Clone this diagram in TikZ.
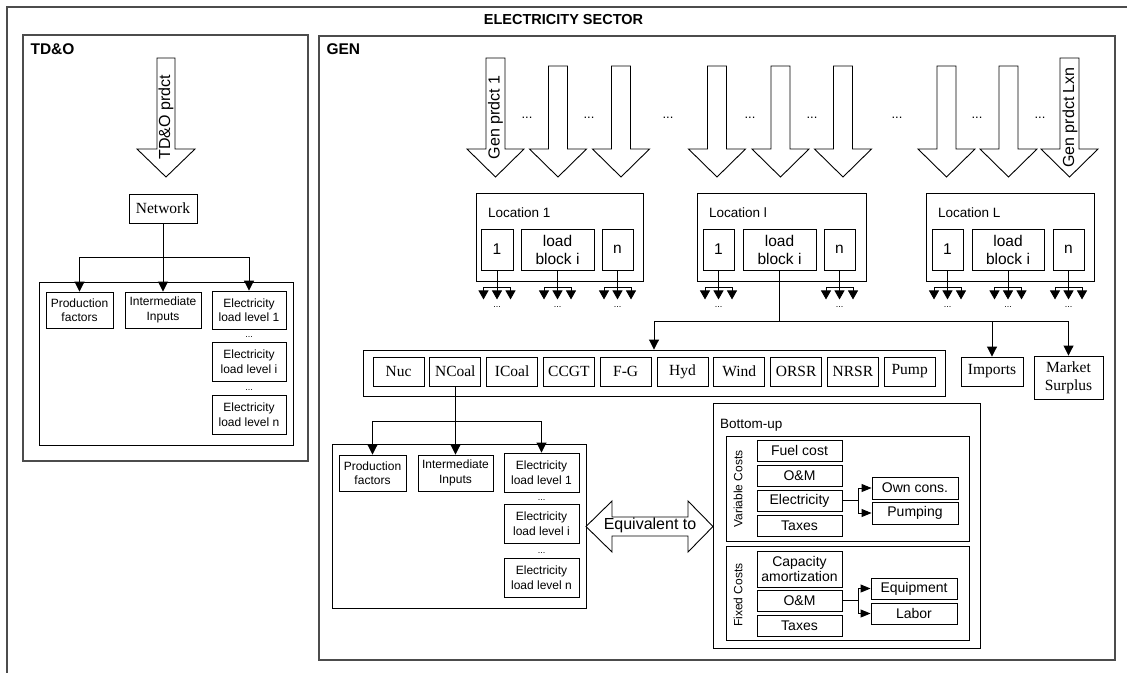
\documentclass[tikz,border=0pt]{standalone}
\usepackage{fontspec}
\setmainfont{Liberation Serif}
\newfontfamily\ssf{Liberation Sans}
\usetikzlibrary{arrows.meta}
\tikzset{
  frame/.style={draw=black!70, line width=1.3pt},
  bx/.style n args={2}{draw, line width=0.9pt, inner sep=0pt, minimum width=#1pt, minimum height=#2pt, align=center},
  sf/.style={font=\ssf\fontsize{12}{14.5}\selectfont},
  sfb/.style={font=\ssf\fontsize{14}{15}\selectfont},
  sr/.style={font=\fontsize{15.5}{18}\selectfont},
  lb/.style={font=\ssf\fontsize{15.5}{18}\selectfont},
  hd/.style={font=\ssf\bfseries\fontsize{15.5}{17}\selectfont, anchor=base west},
  dts/.style={font=\ssf\fontsize{9}{10}\selectfont, anchor=base, inner sep=0pt},
  bdts/.style={font=\ssf\fontsize{13}{14}\selectfont, inner sep=0pt},
  tip/.style={-{Triangle[length=10pt,width=10pt]}, line width=0.9pt},
  stip/.style={-{Triangle[length=9pt,width=10pt]}, line width=0.9pt},
  btip/.style={-{Triangle[length=10pt,width=8pt]}, line width=0.9pt},
  blk/.style={draw, line width=0.9pt, fill=white},
  rot/.style={rotate=90, font=\ssf\fontsize{16}{18}\selectfont, inner sep=0pt},
}
\newcommand\blkarrow[3]{%
  \draw[blk] (#1-9.5,#2) -- (#1+9.5,#2) -- (#1+9.5,149) -- (#1+28.5,149) -- (#1,177)
    -- (#1-28.5,149) -- (#1-9.5,149) -- cycle;}
\begin{document}
\begin{tikzpicture}[x=1pt,y=-1pt]
\useasboundingbox (0,0) rectangle (1127,673);
% outer frame (cropped)
\draw[frame] (1127,7) -- (7,7) -- (7,673);
\node[font=\ssf\bfseries\fontsize{14.5}{16}\selectfont, anchor=base] (title) at (563.5,24.5) {ELECTRICITY SECTOR};

% ---------------- TD&O ----------------
\node[frame, inner sep=0pt, minimum width=285pt, minimum height=426pt] (tdo) at (165.5,248) {};
\node[hd] (tdolab) at (27,54) {TD\&O};
\draw[blk] (157,58) -- (175,58) -- (175,149) -- (195,149) -- (166,177) -- (137,149) -- (157,149) -- cycle;
\node[rot] (tdoa) at (166,117.5) {TD\&O prdct};
\node[bx={68}{29}, sr] (net) at (163,208.5) {Network};
\node[bx={254}{163}] (tdin) at (166,363.5) {};
\node[bx={67}{36}, sf] (pf1) at (79.5,310) {Production\\factors};
\node[bx={76}{36}, sf] (ii1) at (163,310) {Intermediate\\Inputs};
\node[bx={74}{38}, sf] (ea1) at (249,310) {Electricity\\load level 1};
\node[bx={74}{39}, sf] (eb1) at (249,361.5) {Electricity\\load level i};
\node[bx={74}{39}, sf] (ec1) at (249,414.5) {Electricity\\load level n};
\node[dts] (d1a) at (249,337) {...};
\node[dts] (d1b) at (249,390) {...};
\draw[line width=0.9pt] (net.south) -- (163,257) coordinate (j1);
\draw[tip] (j1) -| (pf1.north);
\draw[tip] (j1) -- (ii1.north);
\draw[tip] (j1) -| (ea1.north);

% ---------------- GEN ----------------
\node[frame, inner sep=0pt, minimum width=796pt, minimum height=624pt] (gen) at (717,348) {};
\node[hd] (genlab) at (323,54) {GEN};
\blkarrow{495.5}{58}{}
\blkarrow{558}{66}{}
\blkarrow{621}{66}{}
\blkarrow{717}{66}{}
\blkarrow{780.5}{66}{}
\blkarrow{843}{66}{}
\blkarrow{946.5}{66}{}
\blkarrow{1008.5}{66}{}
\blkarrow{1069.5}{58}{}
\node[rot] (ga1) at (495.5,117.5) {Gen prdct 1};
\node[rot] (gaL) at (1070,117.5) {Gen prdct Lxn};
\foreach \x [count=\i] in {527,589,668,750,812,897,977,1040}
  \node[bdts] (gd\i) at (\x,118) {...};

% locations
\node[bx={167}{88}] (loc1) at (559.5,237) {};
\node[bx={169}{88}] (locl) at (781.5,237) {};
\node[bx={168}{88}] (locL) at (1010,237) {};
\node[font=\ssf\fontsize{13.5}{15}\selectfont, anchor=west, inner sep=0pt] (l1lab) at (488,213) {Location 1};
\node[font=\ssf\fontsize{13.5}{15}\selectfont, anchor=west, inner sep=0pt] (lllab) at (709,213) {Location l};
\node[font=\ssf\fontsize{13.5}{15}\selectfont, anchor=west, inner sep=0pt] (lLlab) at (938,213) {Location L};
\node[bx={32}{41}, lb] (a1) at (497,249.5) {1};
\node[bx={73}{41}, lb] (a2) at (557.5,249.5) {load\\block i};
\node[bx={31}{41}, lb] (a3) at (617.5,249.5) {n};
\node[bx={31}{41}, lb] (b1) at (718.5,249.5) {1};
\node[bx={73}{41}, lb] (b2) at (779.5,249.5) {load\\block i};
\node[bx={31}{41}, lb] (b3) at (839.5,249.5) {n};
\node[bx={31}{41}, lb] (c1) at (947.5,249.5) {1};
\node[bx={72}{41}, lb] (c2) at (1008,249.5) {load\\block i};
\node[bx={31}{41}, lb] (c3) at (1068.5,249.5) {n};
\foreach \n in {a1,a2,a3,b1,b3,c1,c2,c3} {
  \draw[line width=0.9pt] (\n.south) -- ++(0,17) coordinate (t\n);
  \draw[line width=0.9pt] ([xshift=-13.5pt]t\n) -- ([xshift=13.5pt]t\n);
  \foreach \dx in {-13.5,0,13.5}
    \draw[stip] ([xshift=\dx pt]t\n) -- ++(0,12);
  \node[dts] at ([yshift=-20pt]t\n) {...};
}

% technologies
\node[bx={582}{46}] (tech) at (654,373) {};
\foreach \t [count=\i from 0] in {Nuc,NCoal,ICoal,CCGT,F-G,Hyd,Wind,ORSR,NRSR,Pump}
  \node[bx={51}{29}, sr] (tc\i) at (398.5+56.8*\i,371.5) {\t};
\node[bx={62}{29}, sr] (imp) at (992,371.5) {Imports};
\node[bx={69}{43}, sr] (ms) at (1068.5,377.5) {Market\\Surplus};
\draw[line width=0.9pt] (b2.south) -- ++(0,51) coordinate (j2);
\draw[tip] (j2) -| (tech.north);
\draw[tip] (j2) -| (imp.north);
\draw[tip] (j2) -| (ms.north);

% lower structure
\node[bx={254}{164}] (gin) at (459,526) {};
\node[bx={67}{36}, sf] (pf2) at (372.5,473) {Production\\factors};
\node[bx={75}{36}, sf] (ii2) at (455.5,473) {Intermediate\\Inputs};
\node[bx={75}{39}, sf] (ea2) at (541.5,472.5) {Electricity\\load level 1};
\node[bx={75}{39}, sf] (eb2) at (541.5,523.5) {Electricity\\load level i};
\node[bx={75}{39}, sf] (ec2) at (541.5,577.5) {Electricity\\load level n};
\node[dts] (d2a) at (541.5,500) {...};
\node[dts] (d2b) at (541.5,553) {...};
\draw[line width=0.9pt] (tc1.south) -- ++(0,35) coordinate (j3);
\draw[tip] (j3) -| (pf2.north);
\draw[tip] (j3) -| (ii2.north);
\draw[tip] (j3) -| (ea2.north);

% equivalent arrow
\draw[blk] (586,526.5) -- (612,501) -- (612,517) -- (688,517) -- (688,501) -- (713,526.5)
  -- (688,552) -- (688,536) -- (612,536) -- (612,552) -- cycle;
\node[font=\ssf\fontsize{16}{18}\selectfont, inner sep=0pt] (eq) at (650,525) {Equivalent to};

% bottom-up
\node[bx={267}{245}] (bu) at (846.5,525.5) {};
\node[font=\ssf\fontsize{13.5}{15}\selectfont, anchor=west, inner sep=0pt] (bulab) at (720,425) {Bottom-up};
\node[bx={243}{105}] (vc) at (847.5,488.5) {};
\node[bx={243}{94}] (fc) at (847.5,593) {};
\node[rotate=90, font=\ssf\fontsize{12}{14}\selectfont, inner sep=0pt] (vclab) at (738,489) {Variable Costs};
\node[rotate=90, font=\ssf\fontsize{12}{14}\selectfont, inner sep=0pt] (fclab) at (738,595) {Fixed Costs};
\node[bx={85}{21}, sfb] (fuel) at (799.5,450.5) {Fuel cost};
\node[bx={85}{21}, sfb] (om1) at (799.5,475.5) {O\&M};
\node[bx={85}{21}, sfb] (elc) at (799.5,500.5) {Electricity};
\node[bx={85}{21}, sfb] (tax1) at (799.5,525.5) {Taxes};
\node[bx={86}{22}, sfb] (own) at (915,488) {Own cons.};
\node[bx={86}{22}, sfb] (pmp) at (915,513) {Pumping};
\node[bx={85}{36}, sfb] (cap) at (799.5,569) {Capacity\\amortization};
\node[bx={85}{21}, sfb] (om2) at (799.5,600.5) {O\&M};
\node[bx={85}{21}, sfb] (tax2) at (799.5,625.5) {Taxes};
\node[bx={86}{21}, sfb] (eqp) at (914,588.5) {Equipment};
\node[bx={86}{21}, sfb] (lab) at (914,613.5) {Labor};
\draw[btip] (elc.east) -- ++(16,0) |- (own.west);
\draw[btip] (elc.east) -- ++(16,0) |- (pmp.west);
\draw[btip] (om2.east) -- ++(16,0) |- (eqp.west);
\draw[btip] (om2.east) -- ++(16,0) |- (lab.west);
\end{tikzpicture}
\end{document}
